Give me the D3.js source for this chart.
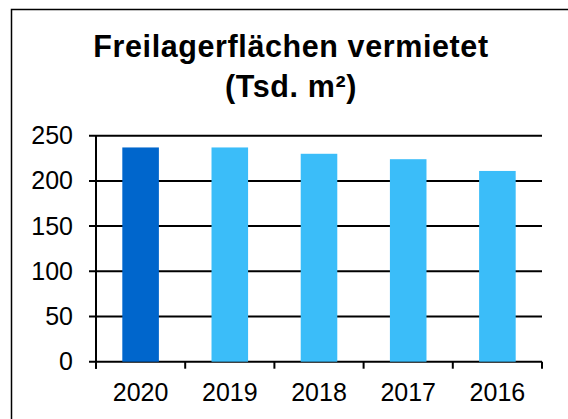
<!DOCTYPE html>
<html>
<head>
<meta charset="utf-8">
<script src="https://cdn.jsdelivr.net/npm/d3@7"></script>
<style>
  body { margin: 0; background: #fff; }
  svg { display: block; font-family: "Liberation Sans", Arial, sans-serif; }
</style>
</head>
<body>
<div id="chart"></div>
<script>
// data
const years = ["2020", "2019", "2018", "2017", "2016"];
const values = [237, 237, 230, 224, 211];
const barColors = ["#0066CC", "#3BBDF9", "#3BBDF9", "#3BBDF9", "#3BBDF9"];
const yTicks = [0, 50, 100, 150, 200, 250];
const titleLines = ["Freilagerflächen vermietet", "(Tsd. m²)"];

const W = 568, H = 419;
const margin = {top: 135.7, right: 26, bottom: 57.3, left: 96},
width = W - margin.left - margin.right,
height = H - margin.top - margin.bottom;

const root = d3.select("#chart")
.append("svg")
.attr("width", W)
.attr("height", H);

// outer frame (runs off the right and bottom edges)
root.append("rect")
.attr("x", 11.5).attr("y", 9.5)
.attr("width", W).attr("height", H)
.attr("fill", "none")
.attr("stroke", "#000")
.attr("stroke-width", 1.5);

// title
root.append("text")
.attr("x", 291)
.attr("y", 56.7)
.attr("text-anchor", "middle")
.style("font-weight", "bold")
.style("font-size", "30.5px")
.style("letter-spacing", "0.6px")
.selectAll("tspan")
.data(titleLines)
.enter()
.append("tspan")
.attr("x", 291)
.attr("dy", (d, i) => i === 0 ? 0 : 40.5)
.text(d => d);

const svg = root.append("g")
.attr("transform", "translate(" + margin.left + "," + margin.top + ")");

const x = d3.scaleBand()
.domain(years)
.range([0, width])
.paddingInner(0.59)
.paddingOuter(0.295);

const y = d3.scaleLinear()
.domain([0, 250])
.range([height, 0]);

// gridlines
svg.append("g")
.selectAll("line")
.data(yTicks)
.enter()
.append("line")
.attr("x1", -7)
.attr("x2", width)
.attr("y1", d => y(d))
.attr("y2", d => y(d))
.attr("stroke", "#000")
.attr("stroke-width", 2);

// bars
svg.selectAll("rect.bar")
.data(values)
.enter()
.append("rect")
.attr("class", "bar")
.attr("x", (d, i) => x(years[i]))
.attr("y", d => y(d))
.attr("width", x.bandwidth())
.attr("height", d => height - y(d))
.attr("fill", (d, i) => barColors[i]);

// y axis labels
const yAxis = svg.append("g")
.call(d3.axisLeft(y).tickValues(yTicks).tickSize(7).tickPadding(16));
yAxis.select(".domain").remove();
yAxis.selectAll("line").remove();
yAxis.selectAll("text")
.style("font-size", "25px")
.style("font-family", "Liberation Sans, Arial, sans-serif")
.attr("fill", "#000");

// y axis line, down to the x tick length
svg.append("line")
.attr("x1", 0).attr("x2", 0)
.attr("y1", 0).attr("y2", height + 7)
.attr("stroke", "#000")
.attr("stroke-width", 2);

// x axis: labels centred on bands, ticks on band boundaries
const xAxis = svg.append("g")
.attr("transform", "translate(0," + height + ")")
.call(d3.axisBottom(x).tickSize(7).tickPadding(15));
xAxis.select(".domain").remove();
xAxis.selectAll("line").remove();
xAxis.selectAll("text")
.style("font-size", "25px")
.style("font-family", "Liberation Sans, Arial, sans-serif")
.attr("fill", "#000");

const bounds = years.map(d => x(d) - (x.step() - x.bandwidth()) / 2);
bounds.push(width);
svg.append("g")
.selectAll("line")
.data(bounds)
.enter()
.append("line")
.attr("x1", d => d).attr("x2", d => d)
.attr("y1", height).attr("y2", height + 7)
.attr("stroke", "#000")
.attr("stroke-width", 2);
</script>
</body>
</html>
